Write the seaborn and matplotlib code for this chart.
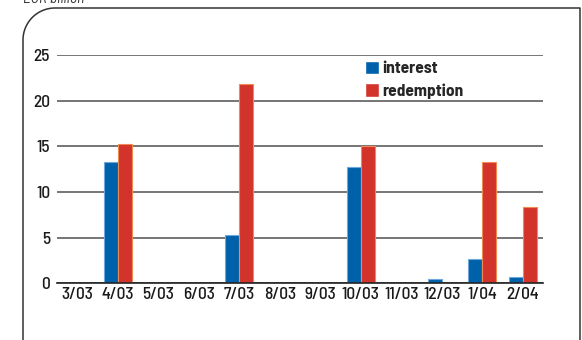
import numpy as np
import pandas as pd
import seaborn as sns
import matplotlib.pyplot as plt
from matplotlib.lines import Line2D

# data (EUR billion)
months = ['3/03', '4/03', '5/03', '6/03', '7/03', '8/03', '9/03', '10/03', '11/03', '12/03', '1/04', '2/04']
interest = [0, 13.3, 0, 0, 5.3, 0, 0, 12.7, 0, 0.5, 2.7, 0.7]
redemption = [0, 15.3, 0, 0, 21.8, 0, 0, 15.0, 0, 0, 13.3, 8.4]
series = ['interest', 'redemption']
palette = {'interest': '#0061ab', 'redemption': '#d2332b'}
edges = {'interest': '#6fa8dc', 'redemption': '#f08a55'}

df = pd.DataFrame({'month': months * 2,
                   'value': interest + redemption,
                   'series': ['interest'] * len(months) + ['redemption'] * len(months)})

sns.set_style('white')
plt.rcParams['font.family'] = ['Barlow Semi Condensed', 'DejaVu Sans']

W, H = 582, 340
fig = plt.figure(figsize=(W / 100, H / 100), dpi=100)
ax = fig.add_axes([57 / W, 1 - 283.3 / H, (543 - 57) / W, (283.3 - 55) / H])

sns.barplot(data=df, x='month', y='value', hue='series', order=months, hue_order=series,
            palette=palette, width=0.7, gap=0, saturation=1, ax=ax, zorder=3)

# bar outlines like the reference
n = len(months)
for i, p in enumerate(ax.patches[:2 * n]):
    s = series[i // n]
    if p.get_height() > 0:
        p.set_edgecolor(edges[s])
        p.set_linewidth(0.8)
    else:
        p.set_linewidth(0)

ax.set_xlim(-0.5, 11.5)
ax.set_ylim(0, 25)
ax.set_yticks([0, 5, 10, 15, 20, 25])
ax.yaxis.grid(True, color='#505050', linewidth=1.1)
ax.set_axisbelow(True)
for side in ['top', 'right', 'left']:
    ax.spines[side].set_visible(False)
ax.spines['bottom'].set_color('#222222')
ax.spines['bottom'].set_linewidth(1.2)
ax.spines['bottom'].set_zorder(5)
ax.tick_params(axis='both', length=0, labelsize=12.5, colors='#1a1a1a')
ax.tick_params(axis='y', pad=5)
ax.tick_params(axis='x', pad=3)
for lab in ax.get_xticklabels() + ax.get_yticklabels():
    lab.set_fontweight('medium')
ax.set_xlabel('')
ax.set_ylabel('')

sns.move_legend(ax, 'upper left', bbox_to_anchor=((358 - 57) / (543 - 57), 1.005),
                frameon=False, title=None, handlelength=0.8, handleheight=0.8,
                handletextpad=0.2, labelspacing=0.4, borderaxespad=0,
                prop={'weight': 'bold', 'size': 12.5})

# rounded frame around the chart
r = 32
t = np.linspace(np.pi, np.pi / 2, 30)
arc_x = 23 + r + r * np.cos(t)
arc_y = 8 + r - r * np.sin(t)
px = np.concatenate([[23], arc_x, [580, 580]])
py = np.concatenate([[H + 2], arc_y, [8, H + 2]])
fig.add_artist(Line2D(px / W, 1 - py / H, color='#333333', linewidth=1.1,
                      transform=fig.transFigure))

fig.text(23 / W, 1 - 3 / H, 'EUR billion', style='italic', fontsize=11,
         color='#333333', va='baseline', ha='left')

fig.savefig('out.png', dpi=100)
